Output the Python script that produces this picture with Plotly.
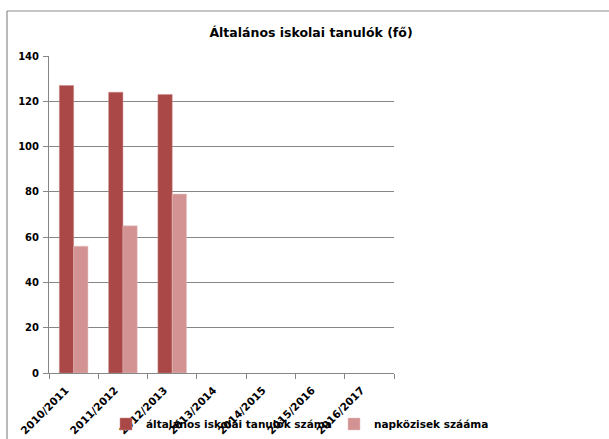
import plotly.graph_objects as go

categories = ["2010/2011", "2011/2012", "2012/2013", "2013/2014", "2014/2015", "2015/2016", "2016/2017"]
tanulok = [127, 124, 123, None, None, None, None]
napkozisek = [56, 65, 79, None, None, None, None]
series_names = ["általános iskolai tanulók száma", "napközisek szááma"]
title_text = "Általános iskolai tanulók (fő)"

FONT = "DejaVu Sans"

W, H = 609, 439
L, R, T, B = 49, 215, 56, 66
pw = W - L - R
ph = H - T - B

def px_x(x):
    return (x - L) / pw

def px_y(y):
    return (H - B - y) / ph

fig = go.Figure()
fig.add_trace(go.Bar(x=categories, y=tanulok, name=series_names[0], legend="legend",
                     marker=dict(color="#A94846", line=dict(color="#C98A88", width=0.5))))
fig.add_trace(go.Bar(x=categories, y=napkozisek, name=series_names[1], legend="legend2",
                     marker=dict(color="#D39393", line=dict(color="#E6C0C0", width=0.5))))

legfont = dict(family=FONT, size=10.5, color="black", weight="bold")

fig.update_layout(
    width=W, height=H,
    margin=dict(l=L, r=R, t=T, b=B, pad=0, autoexpand=False),
    plot_bgcolor="white", paper_bgcolor="white",
    barmode="group", bargap=0.42, bargroupgap=0,
    title=dict(text=title_text, x=311 / W, xanchor="center", y=1 - 33 / H, yanchor="middle",
               font=dict(family=FONT, size=12.5, color="black", weight="bold")),
    font=dict(family=FONT, color="black"),
    showlegend=True,
    legend=dict(orientation="h", x=px_x(106), xanchor="left", y=px_y(424), yanchor="middle",
                font=legfont, bgcolor="rgba(0,0,0,0)", itemwidth=30),
    legend2=dict(orientation="h", x=px_x(334), xanchor="left", y=px_y(424), yanchor="middle",
                 font=legfont, bgcolor="rgba(0,0,0,0)", itemwidth=30),
    xaxis=dict(type="category", tickangle=-45, tickson="boundaries", ticks="outside", ticklen=5,
               tickcolor="#868686", showline=True, linecolor="#868686", linewidth=1,
               showgrid=False, range=[-0.5, 6.5], automargin=False,
               ticklabelstandoff=6, ticklabelshift=-8,
               tickfont=dict(family=FONT, size=10.5, color="black", weight="bold")),
    yaxis=dict(range=[0, 140], dtick=20, tick0=0, ticks="outside", ticklen=5, tickcolor="#868686",
               showline=True, linecolor="#868686", linewidth=1, automargin=False,
               ticklabelstandoff=2,
               showgrid=True, gridcolor="#868686", gridwidth=1, zeroline=False,
               tickfont=dict(family=FONT, size=10, color="black", weight="bold")),
    shapes=[
        dict(type="line", xref="paper", yref="paper", x0=px_x(7), x1=px_x(7), y0=px_y(445), y1=px_y(11),
             line=dict(color="#8C8C8C", width=1.2)),
        dict(type="line", xref="paper", yref="paper", x0=px_x(7), x1=px_x(620), y0=px_y(11), y1=px_y(11),
             line=dict(color="#8C8C8C", width=1.2)),
    ],
)

fig.write_html("out.html", config={"displayModeBar": False},
               post_script="document.body.style.margin='0px';document.body.style.overflow='hidden';")
